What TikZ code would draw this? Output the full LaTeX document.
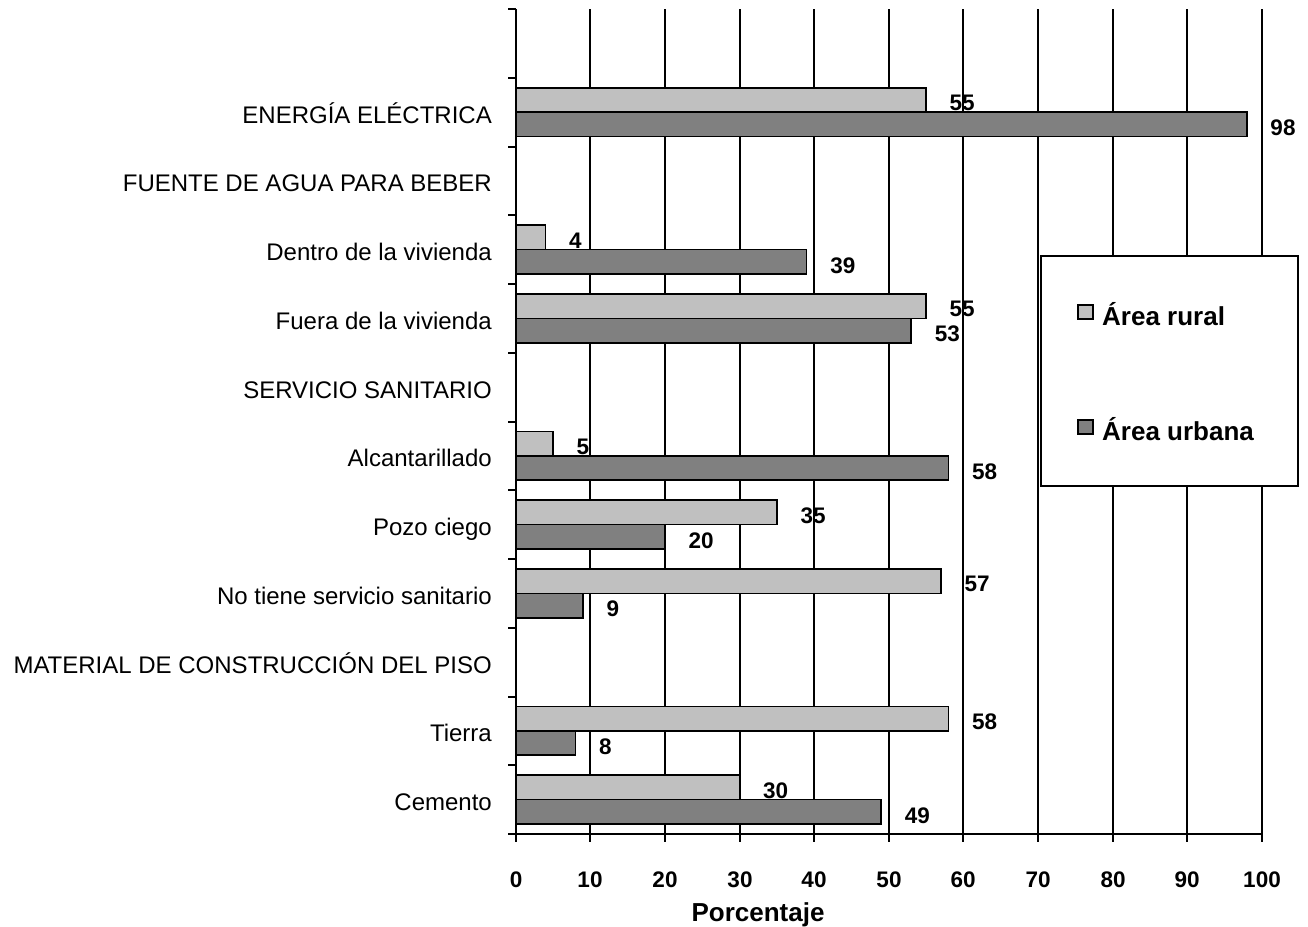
\documentclass[tikz,border=0pt]{standalone}
\usepackage{fontspec}
\setmainfont{Liberation Sans}
\definecolor{ruralc}{HTML}{C0C0C0}
\definecolor{urbanc}{HTML}{808080}
\tikzset{
  gridln/.style={line width=2pt, black},
  barbox/.style={line width=1.6pt, draw=black},
  catlbl/.style={anchor=base east, inner sep=0pt, font=\fontsize{24}{28}\selectfont},
  vallbl/.style={anchor=base west, inner sep=0pt, font=\fontsize{22.5}{26}\selectfont\bfseries},
  ticklbl/.style={anchor=base, inner sep=0pt, font=\fontsize{22.5}{27}\selectfont\bfseries},
  leglbl/.style={anchor=base west, inner sep=0pt, font=\fontsize{26}{30}\selectfont\bfseries},
}
\begin{document}
\begin{tikzpicture}[x=1pt,y=-1pt,line join=miter]
\useasboundingbox (0,0) rectangle (1308,926);
\fill[white] (0,0) rectangle (1308,926);
% gridlines
\foreach \k in {1,...,10} {
  \pgfmathtruncatemacro{\gx}{round(515.7+\k*74.6)}
  \draw[gridln] (\gx,9) -- (\gx,834);
}
% legend box
\node[draw=black, line width=2pt, fill=white, minimum width=257pt, minimum height=230pt, inner sep=0pt, anchor=north west] (legend) at (1040,255) {};
\draw[line width=1.2pt, fill=ruralc] (1078,305) rectangle (1093,319);
\draw[line width=1.2pt, fill=urbanc] (1078,420) rectangle (1093,434);
\node[leglbl] (legr) at (1102,325) {Área rural};
\node[leglbl] (legu) at (1102,440) {Área urbana};
% bars
\foreach \i/\r/\u in {1/55/98, 3/4/39, 4/55/53, 6/5/58, 7/35/20, 8/57/9, 10/58/8, 11/30/49} {
  \pgfmathsetmacro{\yc}{9+68.75*(\i+0.5)}
  \draw[barbox, fill=ruralc] (516,{\yc-24.4}) rectangle ({515.7+\r*7.46},\yc);
  \draw[barbox, fill=urbanc] (516,\yc) rectangle ({515.7+\u*7.46},{\yc+24.4});
  \node[vallbl] (vr\i) at ({515.7+\r*7.46+23.5},{\yc-1.5}) {\r};
  \node[vallbl] (vu\i) at ({515.7+\u*7.46+23.5},{\yc+23.5}) {\u};
}
% axes
\draw[gridln] (516,9) -- (516,834);
\draw[gridln] (508,834) -- (1263,834);
\foreach \j in {0,...,12} {
  \draw[gridln] (508,{9+68.75*\j}) -- (516,{9+68.75*\j});
}
\foreach \k in {0,...,10} {
  \pgfmathtruncatemacro{\gx}{round(515.7+\k*74.6)}
  \draw[gridln] (\gx,834) -- (\gx,842);
  \pgfmathtruncatemacro{\lab}{\k*10}
  \node[ticklbl] (t\k) at (\gx,887) {\lab};
}
\node[anchor=base, inner sep=0pt, font=\fontsize{26}{30}\selectfont\bfseries] (xtitle) at (758,921.5) {Porcentaje};
% category labels
\foreach \i/\t in {1/{ENERGÍA ELÉCTRICA}, 2/{FUENTE DE AGUA PARA BEBER}, 3/{Dentro de la vivienda}, 4/{Fuera de la vivienda}, 5/{SERVICIO SANITARIO}, 6/{Alcantarillado}, 7/{Pozo ciego}, 8/{No tiene servicio sanitario}, 9/{MATERIAL DE CONSTRUCCIÓN DEL PISO}, 10/{Tierra}, 11/{Cemento}} {
  \pgfmathsetmacro{\yc}{9+68.75*(\i+0.5)}
  \node[catlbl] (c\i) at (492,{\yc+11}) {\t};
}
\end{tikzpicture}
\end{document}
